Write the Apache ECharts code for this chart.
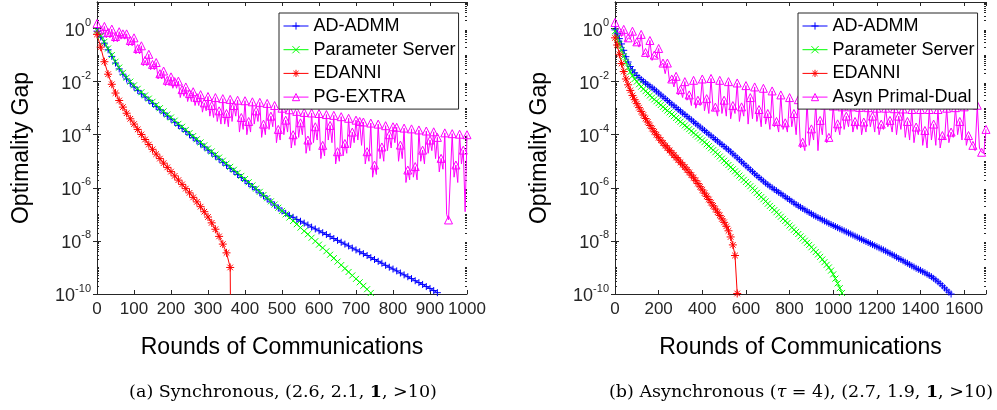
<!DOCTYPE html>
<html>
<head>
<meta charset="utf-8">
<script src="https://cdn.jsdelivr.net/npm/echarts@6/dist/echarts.min.js"></script>
<style>
  html, body { margin: 0; padding: 0; background: #fff; }
  #chart { width: 997px; height: 410px; }
</style>
</head>
<body>
<div id="chart"></div>
<script>
// All series values are log10 of the optimality gap.

// ---------- (a) synchronous: one sample every 10 rounds ----------
const syncStep = 10;
const syncAdmm = [
  -0.1, -0.32, -0.55, -0.8, -1.05, -1.3, -1.52, -1.72, -1.9, -2.06,
  -2.2, -2.33, -2.46, -2.58, -2.7, -2.82, -2.94, -3.06, -3.18, -3.3,
  -3.41, -3.53, -3.65, -3.76, -3.88, -4.0, -4.11, -4.23, -4.35, -4.46,
  -4.58, -4.69, -4.81, -4.92, -5.04, -5.15, -5.27, -5.38, -5.5, -5.61,
  -5.73, -5.84, -5.96, -6.07, -6.19, -6.3, -6.42, -6.53, -6.65, -6.76,
  -6.87, -6.96, -7.04, -7.11, -7.19, -7.26, -7.33, -7.4, -7.48, -7.55,
  -7.62, -7.69, -7.76, -7.83, -7.91, -7.98, -8.05, -8.12, -8.19, -8.27,
  -8.34, -8.41, -8.48, -8.55, -8.63, -8.7, -8.77, -8.84, -8.92, -8.99,
  -9.06, -9.13, -9.21, -9.28, -9.35, -9.42, -9.5, -9.57, -9.64, -9.72,
  -9.79, -9.87, -9.95
];
const syncPs = [
  -0.08, -0.28, -0.5, -0.75, -1.0, -1.25, -1.47, -1.67, -1.85, -2.0,
  -2.14, -2.27, -2.4, -2.52, -2.64, -2.76, -2.88, -3.0, -3.12, -3.24,
  -3.35, -3.47, -3.59, -3.7, -3.82, -3.94, -4.05, -4.17, -4.29, -4.4,
  -4.52, -4.63, -4.75, -4.86, -4.98, -5.09, -5.21, -5.32, -5.44, -5.55,
  -5.67, -5.79, -5.91, -6.03, -6.15, -6.27, -6.39, -6.51, -6.63, -6.75,
  -6.87, -7.0, -7.12, -7.25, -7.37, -7.5, -7.63, -7.75, -7.88, -8.01,
  -8.14, -8.26, -8.39, -8.52, -8.65, -8.78, -8.91, -9.04, -9.17, -9.3,
  -9.43, -9.56, -9.69, -9.82, -9.96
];
const syncEdanni = [
  -0.22, -0.7, -1.25, -1.72, -2.1, -2.43, -2.71, -2.96, -3.19, -3.4,
  -3.6, -3.8, -3.99, -4.18, -4.37, -4.55, -4.73, -4.9, -5.07, -5.23,
  -5.39, -5.55, -5.71, -5.87, -6.03, -6.19, -6.36, -6.53, -6.71, -6.9,
  -7.1, -7.32, -7.56, -7.83, -8.12, -8.45, -9.0
];
// the gap reaches zero right after the last sample: the line falls off the axis
const syncEdanniEnd = [362, -13];
// PG-EXTRA oscillates: marked samples every 10 rounds, unmarked troughs in between
const syncExtraMarks = [
  0.19, -0.05, 0.08, -0.15, -0.02, -0.3, -0.12, -0.2, -0.2, -0.45,
  -0.35, -0.75, -0.65, -1.2, -0.97, -1.35, -1.28, -1.7, -1.6, -1.95,
  -1.82, -2.0, -1.98, -2.3, -2.2, -2.45, -2.38, -2.6, -2.49, -2.8,
  -2.56, -2.9, -2.6, -3.1, -2.64, -3.2, -2.67, -2.9, -2.7, -3.35,
  -2.72, -3.5, -2.76, -3.1, -2.78, -3.6, -2.82, -3.3, -2.9, -3.8,
  -3.0, -3.45, -3.06, -4.0, -3.12, -3.55, -3.16, -4.2, -3.18, -3.7,
  -3.2, -4.4, -3.24, -3.65, -3.27, -4.64, -3.32, -4.33, -3.38, -3.9,
  -3.45, -3.5, -3.52, -4.64, -3.56, -5.14, -3.6, -4.46, -3.66, -4.0,
  -3.7, -3.72, -4.39, -3.75, -5.33, -3.78, -5.2, -3.82, -4.58, -3.86,
  -4.2, -3.89, -4.1, -4.89, -3.93, -7.21, -3.96, -5.14, -3.98, -4.58,
  -4.0
];
const syncExtraDips = [
  -0.25, -0.25, -0.35, -0.35, -0.5, -0.5, -0.4, -0.4, -0.65, -0.65,
  -0.95, -0.95, -1.4, -1.4, -1.55, -1.55, -1.9, -1.9, -2.15, -2.15,
  -2.25, -2.25, -2.6, -2.55, -2.75, -2.75, -2.9, -2.9, -3.15, -3.1,
  -3.3, -3.35, -3.5, -3.6, -3.6, -3.7, -3.5, -3.3, -3.9, -3.8,
  -4.0, -3.9, -3.6, -3.5, -4.1, -4.0, -3.8, -3.7, -4.3, -4.2,
  -4.0, -3.9, -4.5, -4.4, -4.1, -4.0, -4.7, -4.6, -4.3, -4.2,
  -4.9, -4.8, -4.2, -4.3, -5.1, -5.0, -4.8, -4.7, -4.5, -4.3,
  -4.2, -4.4, -5.1, -5.0, -5.6, -5.5, -4.9, -5.0, -4.6, -4.5,
  -4.3, -5.0, -4.9, -5.8, -5.7, -5.6, -5.7, -5.0, -5.1, -4.7,
  -4.6, -4.9, -5.4, -5.3, -7.0, -7.2, -5.6, -5.8, -5.1, -6.9
];

// ---------- (b) asynchronous: one sample every 10 rounds ----------
const asyncStep = 10;
const asyncAdmm = [
  -0.05, -0.2, -0.38, -0.58, -0.82, -1.06, -1.26, -1.43, -1.56, -1.67,
  -1.77, -1.85, -1.92, -1.99, -2.05, -2.11, -2.17, -2.23, -2.29, -2.36,
  -2.43, -2.5, -2.57, -2.64, -2.71, -2.78, -2.85, -2.91, -2.98, -3.05,
  -3.11, -3.18, -3.24, -3.31, -3.38, -3.44, -3.51, -3.58, -3.64, -3.71,
  -3.78, -3.84, -3.91, -3.98, -4.04, -4.11, -4.18, -4.24, -4.31, -4.37,
  -4.44, -4.51, -4.57, -4.64, -4.72, -4.79, -4.87, -4.94, -5.02, -5.09,
  -5.17, -5.24, -5.32, -5.39, -5.47, -5.54, -5.61, -5.68, -5.75, -5.82,
  -5.88, -5.94, -6.0, -6.06, -6.11, -6.17, -6.22, -6.28, -6.34, -6.4,
  -6.45, -6.51, -6.57, -6.63, -6.68, -6.73, -6.78, -6.83, -6.88, -6.93,
  -6.98, -7.03, -7.07, -7.12, -7.16, -7.21, -7.25, -7.29, -7.34, -7.38,
  -7.42, -7.46, -7.5, -7.54, -7.58, -7.62, -7.66, -7.7, -7.74, -7.78,
  -7.82, -7.86, -7.9, -7.94, -7.98, -8.02, -8.06, -8.1, -8.14, -8.18,
  -8.22, -8.26, -8.3, -8.34, -8.38, -8.43, -8.47, -8.52, -8.56, -8.61,
  -8.66, -8.7, -8.75, -8.8, -8.84, -8.89, -8.94, -8.98, -9.03, -9.07,
  -9.11, -9.16, -9.2, -9.25, -9.3, -9.35, -9.41, -9.47, -9.54, -9.61,
  -9.69, -9.77, -9.85, -9.93, -10.0
];
const asyncPs = [
  -0.1, -0.35, -0.58, -0.82, -1.05, -1.27, -1.47, -1.64, -1.78, -1.9,
  -2.0, -2.1, -2.19, -2.28, -2.36, -2.44, -2.52, -2.6, -2.67, -2.74,
  -2.81, -2.88, -2.95, -3.02, -3.09, -3.16, -3.23, -3.3, -3.37, -3.44,
  -3.51, -3.58, -3.65, -3.72, -3.79, -3.86, -3.93, -4.0, -4.07, -4.14,
  -4.21, -4.28, -4.36, -4.43, -4.51, -4.58, -4.66, -4.74, -4.82, -4.9,
  -4.98, -5.06, -5.14, -5.22, -5.3, -5.38, -5.46, -5.54, -5.62, -5.7,
  -5.78, -5.86, -5.94, -6.02, -6.1, -6.19, -6.27, -6.35, -6.43, -6.51,
  -6.6, -6.68, -6.76, -6.84, -6.92, -7.01, -7.09, -7.17, -7.25, -7.33,
  -7.42, -7.5, -7.58, -7.66, -7.74, -7.83, -7.91, -7.99, -8.07, -8.15,
  -8.24, -8.33, -8.42, -8.51, -8.6, -8.7, -8.8, -8.9, -9.0, -9.12,
  -9.26, -9.42, -9.6, -9.78, -9.96
];
const asyncEdanni = [
  -0.35, -0.62, -0.97, -1.32, -1.62, -1.9, -2.12, -2.33, -2.52, -2.68,
  -2.83, -2.98, -3.12, -3.26, -3.39, -3.52, -3.65, -3.77, -3.89, -4.0,
  -4.11, -4.21, -4.31, -4.41, -4.5, -4.59, -4.68, -4.77, -4.86, -4.95,
  -5.04, -5.13, -5.22, -5.32, -5.42, -5.52, -5.62, -5.73, -5.84, -5.96,
  -6.08, -6.2, -6.32, -6.44, -6.56, -6.68, -6.8, -6.92, -7.04, -7.17,
  -7.3, -7.45, -7.62, -7.85, -8.15, -8.55, -9.98
];
// Asyn Primal-Dual: marked samples every 20 rounds, unmarked troughs in between
const asyncExtraStep = 20;
const asyncExtraMarks = [
  0.23, -0.1, -0.03, -0.35, -0.1, -0.5, -0.22, -0.9, -0.45, -1.0,
  -0.75, -1.3, -1.3, -1.9, -1.8, -2.3, -2.0, -2.5, -1.95, -2.7,
  -1.9, -2.64, -1.88, -2.96, -1.95, -2.7, -2.0, -2.9, -2.05, -2.95,
  -2.15, -2.6, -2.2, -3.05, -2.25, -3.2, -2.35, -3.5, -2.5, -3.55,
  -2.6, -3.2, -2.68, -4.28, -2.75, -3.78, -2.8, -3.46, -2.88, -4.1,
  -2.92, -3.59, -2.95, -3.3, -2.95, -3.5, -2.97, -3.52, -2.98, -3.3,
  -3.0, -3.6, -3.0, -3.46, -3.02, -3.3, -3.03, -3.5, -3.05, -3.71,
  -3.05, -3.84, -3.05, -3.6, -3.05, -4.03, -3.0, -3.9, -2.98, -3.5,
  -2.95, -4.03, -4.4, -2.89, -4.66, -3.8
];
const asyncExtraDips = [
  -0.2, -0.3, -0.5, -0.4, -0.6, -0.7, -1.0, -1.1, -1.2, -1.1,
  -1.4, -1.7, -2.0, -2.2, -2.5, -2.6, -2.7, -2.9, -3.0, -2.9,
  -3.1, -3.2, -3.1, -3.3, -3.2, -3.3, -3.4, -3.2, -3.5, -3.3,
  -3.6, -3.4, -3.5, -3.7, -3.6, -3.8, -3.7, -3.9, -3.8, -3.9,
  -3.7, -4.0, -4.5, -4.6, -4.4, -4.2, -4.6, -4.0, -4.3, -4.1,
  -3.9, -4.0, -3.8, -3.7, -3.9, -3.8, -4.0, -3.9, -3.7, -3.9,
  -4.0, -3.8, -3.7, -3.9, -4.0, -3.8, -4.1, -4.2, -4.3, -4.0,
  -4.4, -4.5, -4.2, -4.4, -4.5, -4.2, -4.3, -4.1, -4.0, -4.2,
  -4.4, -4.3, -4.6, -4.5, -4.7
];

// ---------- axes ----------
const yMajorExps = [-10, -8, -6, -4, -2, 0];
const yMinorMultipliers = [1, 2, 3, 4, 5, 6, 7, 8, 9];
const syncXMax = 1000, syncXInterval = 100;
const asyncXMax = 1700, asyncXInterval = 200, asyncXLastLabel = 1600;

const seriesNames = ['AD-ADMM', 'Parameter Server', 'EDANNI'];
const syncExtraName = 'PG-EXTRA';
const asyncExtraName = 'Asyn Primal-Dual';

// ---------- helpers ----------
const SANS = '"Liberation Sans", Arial, Helvetica, sans-serif';
const SERIF = '"DejaVu Serif", "Liberation Serif", serif';
const INK = '#262626';
const CLEAR = 'rgba(0,0,0,0)';

function toPoints(exps, step) {
  return exps.map((e, i) => [i * step, Math.pow(10, e)]);
}
function zigzag(marks, dips, step) {
  const out = [];
  marks.forEach((e, i) => {
    out.push({ value: [i * step, Math.pow(10, e)] });
    if (i < dips.length) {
      out.push({ value: [i * step + step / 2, Math.pow(10, dips[i])], symbol: 'none' });
    }
  });
  return out;
}

const majorTicks = yMajorExps.map(e => Math.pow(10, e));
const minorTicks = [];
for (let d = -10; d <= 0; d++) {
  yMinorMultipliers.forEach(m => {
    if (!(m === 1 && d % 2 === 0)) minorTicks.push(m * Math.pow(10, d));
  });
}

const SYM_PLUS = 'path://M0,5L10,5M5,0L5,10';
const SYM_CROSS = 'path://M0,0L10,10M10,0L0,10';
const SYM_STAR = 'path://M0,5L10,5M5,0L5,10M1.5,1.5L8.5,8.5M8.5,1.5L1.5,8.5';
const SYM_TRI = 'path://M5,0L10,8.66L0,8.66Z';

const styles = [
  { color: '#0000ff', symbol: SYM_PLUS, size: 7 },
  { color: '#00ff00', symbol: SYM_CROSS, size: 6 },
  { color: '#ff0000', symbol: SYM_STAR, size: 8 },
  { color: '#ff00ff', symbol: SYM_TRI, size: 8 }
];

function lineSeries(name, data, st, gi, z) {
  return {
    type: 'line', name, data,
    xAxisIndex: gi * 2, yAxisIndex: gi * 4,
    symbol: st.symbol, symbolSize: st.size, showAllSymbol: true,
    lineStyle: { color: st.color, width: 1 },
    itemStyle: { color: CLEAR, borderColor: st.color, borderWidth: 1 },
    emphasis: { disabled: true },
    clip: true, z
  };
}

function yLabel(v) {
  const e = Math.round(Math.log10(v));
  return '{b|10}{s|' + e + '}';
}

const grids = [
  { left: 97, top: 2, width: 370, height: 292 },
  { left: 615, top: 2, width: 371, height: 292 }
];

function xAxes(gi, max, interval, lastLabel) {
  const base = {
    type: 'value', gridIndex: gi, min: 0, max, interval,
    axisLine: { show: true, lineStyle: { color: INK, width: 1 } },
    axisTick: { show: true, inside: true, length: 4, lineStyle: { color: INK } },
    splitLine: { show: false }
  };
  return [
    Object.assign({}, base, {
      position: 'bottom',
      axisLabel: {
        fontSize: 17, color: INK, fontFamily: SANS, margin: 7,
        formatter: v => (v > lastLabel ? '' : String(v))
      },
      name: 'Rounds of Communications', nameLocation: 'middle', nameGap: 42,
      nameTextStyle: { fontSize: 23, color: '#000', fontFamily: SANS }
    }),
    Object.assign({}, base, { position: 'top', axisLabel: { show: false } })
  ];
}

function yAxes(gi) {
  const base = {
    type: 'log', logBase: 10, gridIndex: gi, min: 1e-10, max: 10,
    splitLine: { show: false }
  };
  const major = {
    axisLine: { show: true, lineStyle: { color: INK, width: 1 } },
    axisTick: { show: true, inside: true, length: 4, customValues: majorTicks, lineStyle: { color: INK } }
  };
  const minor = {
    axisLine: { show: false },
    axisTick: { show: true, inside: true, length: 2, customValues: minorTicks, lineStyle: { color: INK } },
    axisLabel: { show: false }
  };
  return [
    Object.assign({}, base, major, {
      position: 'left',
      axisLabel: {
        customValues: majorTicks, formatter: yLabel, margin: 6,
        rich: {
          b: { fontSize: 18, color: INK, fontFamily: SANS, lineHeight: 22, verticalAlign: 'bottom' },
          s: { fontSize: 11, color: INK, fontFamily: SANS, lineHeight: 10, verticalAlign: 'top' }
        }
      },
      name: 'Optimality Gap', nameLocation: 'middle', nameGap: 64,
      nameTextStyle: { fontSize: 23, color: '#000', fontFamily: SANS }
    }),
    Object.assign({}, base, major, { position: 'right', axisLabel: { show: false } }),
    Object.assign({}, base, minor, { position: 'left' }),
    Object.assign({}, base, minor, { position: 'right' })
  ];
}

function legend(left, names) {
  return {
    data: names.map((n, k) => ({
      name: n,
      itemStyle: { color: CLEAR, borderColor: styles[k].color, borderWidth: 1 },
      lineStyle: { color: styles[k].color, width: 1 }
    })),
    orient: 'vertical', left, top: 13,
    padding: [4, 3, 3, 4], itemGap: 5.7, itemWidth: 25, itemHeight: 9,
    backgroundColor: '#fff', borderColor: INK, borderWidth: 1,
    textStyle: { fontSize: 18, color: '#000', fontFamily: SANS },
    selectedMode: false
  };
}

const edanniSync = toPoints(syncEdanni, syncStep);
edanniSync.push({ value: [syncEdanniEnd[0], Math.pow(10, syncEdanniEnd[1])], symbol: 'none' });

const series = [
  lineSeries(syncExtraName, zigzag(syncExtraMarks, syncExtraDips, syncStep), styles[3], 0, 2),
  lineSeries(seriesNames[0], toPoints(syncAdmm, syncStep), styles[0], 0, 3),
  lineSeries(seriesNames[1], toPoints(syncPs, syncStep), styles[1], 0, 3),
  lineSeries(seriesNames[2], edanniSync, styles[2], 0, 3),
  lineSeries(asyncExtraName, zigzag(asyncExtraMarks, asyncExtraDips, asyncExtraStep), styles[3], 1, 2),
  lineSeries(seriesNames[0], toPoints(asyncAdmm, asyncStep), styles[0], 1, 3),
  lineSeries(seriesNames[1], toPoints(asyncPs, asyncStep), styles[1], 1, 3),
  lineSeries(seriesNames[2], toPoints(asyncEdanni, asyncStep), styles[2], 1, 3)
];

const captionRich = {
  n: { fontSize: 17.5, fontFamily: SERIF, color: '#000' },
  b: { fontSize: 17.5, fontFamily: SERIF, color: '#000', fontWeight: 'bold' },
  i: { fontSize: 17.5, fontFamily: SERIF, color: '#000', fontStyle: 'italic' }
};

const chart = echarts.init(document.getElementById('chart'), null, { renderer: 'canvas' });
chart.setOption({
  animation: false,
  backgroundColor: '#fff',
  grid: grids,
  xAxis: xAxes(0, syncXMax, syncXInterval, syncXMax).concat(xAxes(1, asyncXMax, asyncXInterval, asyncXLastLabel)),
  yAxis: yAxes(0).concat(yAxes(1)),
  legend: [
    legend(279, seriesNames.concat([syncExtraName])),
    legend(798, seriesNames.concat([asyncExtraName]))
  ],
  series,
  graphic: [
    {
      type: 'text', x: 283, y: 392, silent: true,
      style: {
        text: '{n|(a) Synchronous, (2.6, 2.1, }{b|1}{n|, >10)}',
        rich: captionRich, align: 'center', verticalAlign: 'middle'
      }
    },
    {
      type: 'text', x: 801, y: 392, silent: true,
      style: {
        text: '{n|(b) Asynchronous (}{i|τ}{n| = 4), (2.7, 1.9, }{b|1}{n|, >10)}',
        rich: captionRich, align: 'center', verticalAlign: 'middle'
      }
    }
  ]
});
</script>
</body>
</html>
